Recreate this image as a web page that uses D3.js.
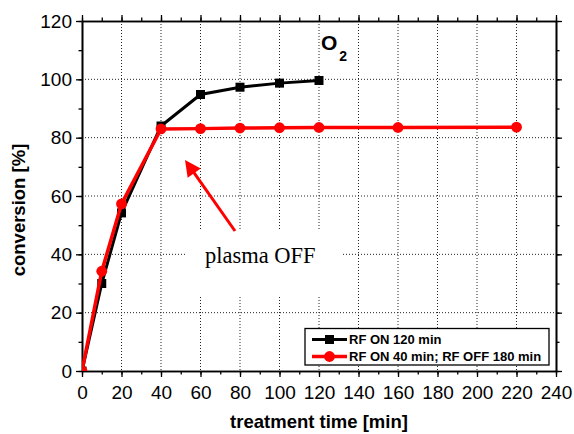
<!DOCTYPE html>
<html>
<head>
<meta charset="utf-8">
<script src="https://cdn.jsdelivr.net/npm/d3@7"></script>
<style>
  body { margin: 0; background: #fff; }
  text { font-family: "Liberation Sans", Arial, sans-serif; }
</style>
</head>
<body>
<svg id="chart" width="574" height="434"></svg>
<script>
// Conversion of O2 versus treatment time
const timeOn  = [0, 10, 20, 40, 60, 80, 100, 120];
const convOn  = [0, 30, 54.2, 84, 94.8, 97.3, 98.7, 99.6];
const timeOff = [0, 10, 20, 40, 60, 80, 100, 120, 160, 220];
const convOff = [0, 34.2, 57.3, 83.0, 83.1, 83.3, 83.4, 83.5, 83.5, 83.6];
const seriesNames = ["RF ON 120 min", "RF ON 40 min; RF OFF 180 min"];
const xTicks = [0, 20, 40, 60, 80, 100, 120, 140, 160, 180, 200, 220, 240];
const yTicks = [0, 20, 40, 60, 80, 100, 120];
const xMinorTicks = d3.range(0, 241, 10);
const yMinorTicks = d3.range(0, 121, 10);

const svg = d3.select("#chart");
const plotLeft = 82, plotRight = 556, plotTop = 21, plotBottom = 371;

const x = d3.scaleLinear().domain([0, 240]).range([plotLeft, plotRight]);
const y = d3.scaleLinear().domain([0, 120]).range([plotBottom, plotTop]);

// dotted grid
const grid = svg.append("g")
  .attr("stroke", "#222").attr("stroke-width", 1).attr("stroke-dasharray", "1,2");
grid.selectAll("line.v").data(xTicks.filter(d => d > 0 && d < 240)).join("line")
  .attr("x1", d => x(d)).attr("x2", d => x(d)).attr("y1", plotTop).attr("y2", plotBottom);
grid.selectAll("line.h").data(yTicks.filter(d => d > 0 && d < 120)).join("line")
  .attr("y1", d => y(d)).attr("y2", d => y(d)).attr("x1", plotLeft).attr("x2", plotRight);

// annotation background
svg.append("rect").attr("x", 185).attr("y", 231).attr("width", 158).attr("height", 64).attr("fill", "#fff");

// axes
function styleAxis(g) {
  g.selectAll("path.domain").attr("stroke", "#000").attr("stroke-width", 1.6);
  g.selectAll(".tick line").attr("stroke", "#000").attr("stroke-width", 1.3);
  g.selectAll(".tick text").attr("font-family", "Liberation Sans, Arial, sans-serif")
    .attr("font-size", 19).attr("fill", "#000");
}
const noLabel = () => "";

svg.append("g").attr("transform", `translate(0,${plotBottom})`)
  .call(d3.axisBottom(x).tickValues(xMinorTicks).tickSize(3.5).tickSizeOuter(0).tickFormat(noLabel)).call(styleAxis);
svg.append("g").attr("transform", `translate(0,${plotBottom})`)
  .call(d3.axisBottom(x).tickValues(xTicks).tickSize(6).tickSizeOuter(0).tickPadding(9).tickFormat(d3.format("d"))).call(styleAxis);

svg.append("g").attr("transform", `translate(0,${plotTop})`)
  .call(d3.axisTop(x).tickValues(xMinorTicks).tickSize(3.5).tickSizeOuter(0).tickFormat(noLabel)).call(styleAxis);
svg.append("g").attr("transform", `translate(0,${plotTop})`)
  .call(d3.axisTop(x).tickValues(xTicks).tickSize(6).tickSizeOuter(0).tickFormat(noLabel)).call(styleAxis);

svg.append("g").attr("transform", `translate(${plotLeft},0)`)
  .call(d3.axisLeft(y).tickValues(yMinorTicks).tickSize(3.5).tickSizeOuter(0).tickFormat(noLabel)).call(styleAxis);
svg.append("g").attr("transform", `translate(${plotLeft},0)`)
  .call(d3.axisLeft(y).tickValues(yTicks).tickSize(6).tickSizeOuter(0).tickPadding(4).tickFormat(d3.format("d"))).call(styleAxis);

svg.append("g").attr("transform", `translate(${plotRight},0)`)
  .call(d3.axisRight(y).tickValues(yMinorTicks).tickSize(3.5).tickSizeOuter(0).tickFormat(noLabel)).call(styleAxis);
svg.append("g").attr("transform", `translate(${plotRight},0)`)
  .call(d3.axisRight(y).tickValues(yTicks).tickSize(6).tickSizeOuter(0).tickFormat(noLabel)).call(styleAxis);

// axis titles
svg.append("text").attr("x", (plotLeft + plotRight) / 2).attr("y", 428)
  .attr("text-anchor", "middle").attr("font-weight", "bold").attr("font-size", 18.5)
  .text("treatment time [min]");
svg.append("text").attr("transform", "translate(25,210) rotate(-90)")
  .attr("text-anchor", "middle").attr("font-weight", "bold").attr("font-size", 18.5)
  .text("conversion [%]");

// data series, clipped to the plot frame
svg.append("clipPath").attr("id", "plotClip")
  .append("rect").attr("x", plotLeft).attr("y", plotTop)
  .attr("width", plotRight - plotLeft).attr("height", plotBottom - plotTop);
const plot = svg.append("g").attr("clip-path", "url(#plotClip)");

const onData = timeOn.map((t, i) => [t, convOn[i]]);
const offData = timeOff.map((t, i) => [t, convOff[i]]);
const line = d3.line().x(d => x(d[0])).y(d => y(d[1]));

plot.append("path").datum(onData).attr("d", line)
  .attr("fill", "none").attr("stroke", "#000").attr("stroke-width", 3);
plot.selectAll("rect.on").data(onData).join("rect")
  .attr("x", d => x(d[0]) - 4.5).attr("y", d => y(d[1]) - 4.5)
  .attr("width", 9).attr("height", 9).attr("fill", "#000");

plot.append("path").datum(offData).attr("d", line)
  .attr("fill", "none").attr("stroke", "#ff0000").attr("stroke-width", 3.5);
plot.selectAll("circle.off").data(offData).join("circle")
  .attr("cx", d => x(d[0])).attr("cy", d => y(d[1])).attr("r", 5.4).attr("fill", "#ff0000");

// "plasma OFF" arrow
const tail = [235, 231], tip = [185, 160];
const dx = tip[0] - tail[0], dy = tip[1] - tail[1];
const len = Math.hypot(dx, dy), ux = dx / len, uy = dy / len;
const headLen = 16, headHalf = 8;
const bx = tip[0] - ux * headLen, by = tip[1] - uy * headLen;
svg.append("line").attr("x1", tail[0]).attr("y1", tail[1]).attr("x2", bx + ux * 2).attr("y2", by + uy * 2)
  .attr("stroke", "#ff0000").attr("stroke-width", 3);
svg.append("polygon")
  .attr("points", [[tip[0], tip[1]], [bx - uy * headHalf, by + ux * headHalf], [bx + uy * headHalf, by - ux * headHalf]].map(p => p.join(",")).join(" "))
  .attr("fill", "#ff0000");

svg.append("text").attr("x", 205).attr("y", 263)
  .attr("font-size", 22.5).attr("fill", "#000")
  .style("font-family", "'Liberation Serif', 'Times New Roman', serif")
  .text("plasma OFF");

// gas label
const gas = svg.append("text").attr("x", 321).attr("y", 50).attr("font-weight", "bold").attr("font-size", 21);
gas.append("tspan").text("O");
gas.append("tspan").attr("dx", 2).attr("dy", 11).attr("font-size", 14).text("2");

// legend
const lg = svg.append("g");
lg.append("rect").attr("x", 305).attr("y", 328.5).attr("width", 244).attr("height", 36.5)
  .attr("fill", "#fff").attr("stroke", "#000").attr("stroke-width", 1.3);
const rows = [339.5, 356.5];
[0, 1].forEach(i => {
  const cy = rows[i];
  lg.append("line").attr("x1", 312).attr("x2", 347).attr("y1", cy).attr("y2", cy)
    .attr("stroke", i === 0 ? "#000" : "#ff0000").attr("stroke-width", i === 0 ? 3 : 3.5);
  if (i === 0) {
    lg.append("rect").attr("x", 329.5 - 4.5).attr("y", cy - 4.5).attr("width", 9).attr("height", 9).attr("fill", "#000");
  } else {
    lg.append("circle").attr("cx", 329.5).attr("cy", cy).attr("r", 5.4).attr("fill", "#ff0000");
  }
  lg.append("text").attr("x", 349).attr("y", cy + 4.7).attr("font-weight", "bold").attr("font-size", 13)
    .text(seriesNames[i]);
});
</script>
</body>
</html>
